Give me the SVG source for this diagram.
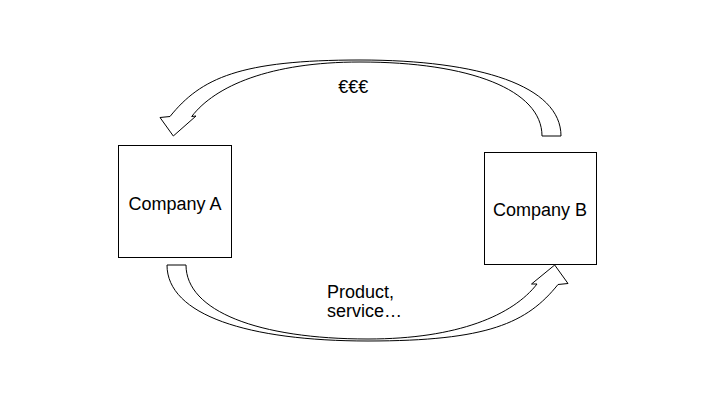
<svg xmlns="http://www.w3.org/2000/svg" width="720" height="405" viewBox="0 0 720 405">
<style>
.box{fill:#fff;stroke:#000;stroke-width:1}
.arr{fill:#fff;stroke:#000;stroke-width:1;stroke-linejoin:miter}
.lbl{font-family:"Liberation Sans",Arial,sans-serif;font-size:18px;fill:#000}
</style>
<rect width="720" height="405" fill="#fff"/>
<g id="connectors">
<path id="money-flow" class="arr" d="M 561 136 C 561 86, 480 60, 360 60 C 240 60, 201 78, 170 116.5 L 160 117.5 L 173.3 136 L 196 116 L 191.7 116.5 C 215 86, 270 62, 360 62 C 470 62, 542 90, 542 136 Z"/>
<path id="product-flow" class="arr" d="M 167 265 C 167 315, 248 341, 368 341 C 488 341, 527 323, 558 284.5 L 568 283.5 L 554.7 265 L 531.5 284 L 537 284 C 513 315, 458 339, 368 339 C 258 339, 186 311, 186 265 Z"/>
<text class="lbl" x="353.3" y="93.3" text-anchor="middle">€€€</text>
<text class="lbl" x="327" y="298.3">Product,</text>
<text class="lbl" x="327" y="316.7">service…</text>
</g>
<g id="company-a">
<rect class="box" x="118.5" y="145.5" width="113" height="112"/>
<text class="lbl" x="175" y="210" text-anchor="middle">Company A</text>
</g>
<g id="company-b">
<rect class="box" x="484.5" y="152.5" width="112" height="112"/>
<text class="lbl" x="540" y="216" text-anchor="middle">Company B</text>
</g>
</svg>
